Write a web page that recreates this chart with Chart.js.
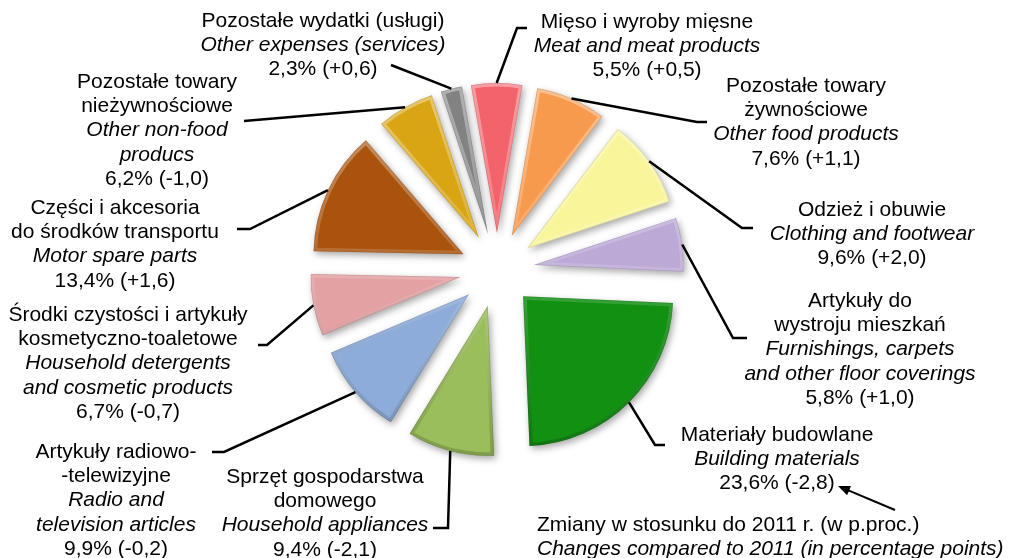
<!DOCTYPE html>
<html>
<head>
<meta charset="utf-8">
<script src="https://cdn.jsdelivr.net/npm/chart.js@4"></script>
<style>
html,body{margin:0;padding:0;background:#fff;}
#wrap{width:1013px;height:558px;}
</style>
</head>
<body>
<div id="wrap"><canvas id="c" width="1013" height="558"></canvas></div>
<script>
// ---- data ----
const namesPL = [
  "Mięso i wyroby mięsne",
  "Pozostałe towary\nżywnościowe",
  "Odzież i obuwie",
  "Artykuły do\nwystroju mieszkań",
  "Materiały budowlane",
  "Sprzęt gospodarstwa\ndomowego",
  "Artykuły radiowo-\n-telewizyjne",
  "Środki czystości i artykuły\nkosmetyczno-toaletowe",
  "Części i akcesoria\ndo środków transportu",
  "Pozostałe towary\nnieżywnościowe",
  "Pozostałe wydatki (usługi)"
];
const namesEN = [
  "Meat and meat products",
  "Other food products",
  "Clothing and footwear",
  "Furnishings, carpets\nand other floor coverings",
  "Building materials",
  "Household appliances",
  "Radio and\ntelevision articles",
  "Household detergents\nand cosmetic products",
  "Motor spare parts",
  "Other non-food\nproducs",
  "Other expenses (services)"
];
const shares  = [5.5, 7.6, 9.6, 5.8, 23.6, 9.4, 9.9, 6.7, 13.4, 6.2, 2.3];
const changes = [0.5, 1.1, 2.0, 1.0, -2.8, -2.1, -0.2, -0.7, 1.6, -1.0, 0.6];
const noteLines = ["Zmiany w stosunku do 2011 r. (w p.proc.)", "Changes compared to 2011 (in percentage points)"];

// ---- styles / layout ----
const colors = ["#F2636B","#F79A4E","#F9F59A","#BCA9D6","#129012","#9BBE5C","#8EACD9","#E3A1A3","#A9530D","#D9A514","#828282"];
const EXPLODE = 37;
const FONT = '"Liberation Sans", Arial, sans-serif';
const FS = 21, LH = 24.3;
// label block: text centre x, first line y, leader points from label side
const labelLayout = [
  {x:647, y:22,  pts:[[527,28],[517,28]]},
  {x:806, y:86,  pts:[[707,122],[697,122]]},
  {x:872, y:210, pts:[[753,228],[742,228]]},
  {x:860, y:301, pts:[[747,338],[733,338]]},
  {x:777, y:435, pts:[[665,445],[655,445]]},
  {x:325, y:477, pts:[[433,528],[448,528]]},
  {x:116, y:452, pts:[[212,452],[224,452]]},
  {x:128, y:315, pts:[[258,345],[267,345]]},
  {x:115, y:208, pts:[[237,229],[250,229]]},
  {x:157, y:82,  pts:[[244,121]]},
  {x:323, y:21,  pts:[[391,65]]}
];
const noteLayout = {x:537, y:525, arrowFrom:[895,510], arrowTo:[838,486]};

function fmt(v){ return v.toFixed(1).replace('.', ','); }
function valueText(i){
  const c = changes[i];
  return fmt(shares[i]) + '% (' + (c > 0 ? '+' : '') + fmt(c) + ')';
}

const explodePlugin = {
  id: 'explode',
  afterDatasetUpdate(chart, args){
    const meta = chart.getDatasetMeta(args.index);
    meta.data.forEach(arc => {
      if (arc._exploded) return;
      const orig = arc.draw.bind(arc);
      arc.draw = function(ctx){
        const h = (this.startAngle + this.endAngle) / 2;
        ctx.save();
        ctx.translate(Math.cos(h) * EXPLODE, Math.sin(h) * EXPLODE);
        ctx.shadowColor = 'rgba(0,0,0,0.35)';
        ctx.shadowBlur = 7;
        ctx.shadowOffsetX = 2;
        ctx.shadowOffsetY = 3;
        orig(ctx);
        ctx.restore();
        // bevel: light upper edges, darker lower edges
        ctx.save();
        ctx.translate(Math.cos(h) * EXPLODE, Math.sin(h) * EXPLODE);
        ctx.beginPath();
        ctx.moveTo(this.x, this.y);
        ctx.arc(this.x, this.y, this.outerRadius, this.startAngle, this.endAngle);
        ctx.closePath();
        ctx.clip();
        const g = ctx.createLinearGradient(0, this.y - this.outerRadius, 0, this.y + this.outerRadius);
        g.addColorStop(0, 'rgba(255,255,255,0.38)');
        g.addColorStop(0.5, 'rgba(255,255,255,0.15)');
        g.addColorStop(1, 'rgba(0,0,0,0.18)');
        ctx.lineJoin = 'round';
        ctx.strokeStyle = g;
        ctx.lineWidth = 7;
        ctx.stroke();
        ctx.strokeStyle = 'rgba(0,0,0,0.12)';
        ctx.lineWidth = 1.5;
        ctx.stroke();
        ctx.restore();
      };
      arc._exploded = true;
    });
  }
};

const labelPlugin = {
  id: 'labels',
  afterDraw(chart){
    const ctx = chart.ctx;
    const meta = chart.getDatasetMeta(0);
    ctx.save();
    ctx.textAlign = 'center';
    ctx.textBaseline = 'middle';
    ctx.fillStyle = '#000';
    ctx.strokeStyle = '#000';
    ctx.lineWidth = 2.5;
    meta.data.forEach((arc, i) => {
      const L = labelLayout[i];
      const lines = [];
      namesPL[i].split('\n').forEach(t => lines.push({t, it:false}));
      namesEN[i].split('\n').forEach(t => lines.push({t, it:true}));
      lines.push({t: valueText(i), it:false});
      lines.forEach((ln, k) => {
        ctx.font = (ln.it ? 'italic ' : '') + FS + 'px ' + FONT;
        ctx.fillText(ln.t, L.x, L.y + k * LH);
      });
      // leader line to the middle of the outer arc
      const h = (arc.startAngle + arc.endAngle) / 2;
      const ax = arc.x + Math.cos(h) * (EXPLODE + arc.outerRadius);
      const ay = arc.y + Math.sin(h) * (EXPLODE + arc.outerRadius);
      ctx.beginPath();
      ctx.moveTo(L.pts[0][0], L.pts[0][1]);
      for (let p = 1; p < L.pts.length; p++) ctx.lineTo(L.pts[p][0], L.pts[p][1]);
      ctx.lineTo(ax, ay);
      ctx.stroke();
    });
    // note
    ctx.textAlign = 'left';
    noteLines.forEach((t, k) => {
      ctx.font = (k === 1 ? 'italic ' : '') + FS + 'px ' + FONT;
      ctx.fillText(t, noteLayout.x, noteLayout.y + k * LH);
    });
    // arrow
    const [fx, fy] = noteLayout.arrowFrom, [tx, ty] = noteLayout.arrowTo;
    const ang = Math.atan2(ty - fy, tx - fx);
    ctx.lineWidth = 2;
    ctx.beginPath();
    ctx.moveTo(fx, fy);
    ctx.lineTo(tx - Math.cos(ang) * 8, ty - Math.sin(ang) * 8);
    ctx.stroke();
    ctx.beginPath();
    ctx.moveTo(tx, ty);
    ctx.lineTo(tx - Math.cos(ang) * 12 - Math.sin(ang) * 5, ty - Math.sin(ang) * 12 + Math.cos(ang) * 5);
    ctx.lineTo(tx - Math.cos(ang) * 12 + Math.sin(ang) * 5, ty - Math.sin(ang) * 12 - Math.cos(ang) * 5);
    ctx.closePath();
    ctx.fill();
    ctx.restore();
  }
};

new Chart(document.getElementById('c'), {
  type: 'pie',
  data: {
    labels: namesEN,
    datasets: [{
      data: shares,
      backgroundColor: colors,
      borderWidth: 0,
      offset: 0,
      hoverOffset: 0
    }]
  },
  options: {
    responsive: false,
    animation: false,
    events: [],
    rotation: -10,
    radius: 150,
    layout: { padding: { left: 0, right: 19, top: 0, bottom: 18 } },
    plugins: {
      legend: { display: false },
      tooltip: { enabled: false }
    }
  },
  plugins: [explodePlugin, labelPlugin]
});
</script>
</body>
</html>
